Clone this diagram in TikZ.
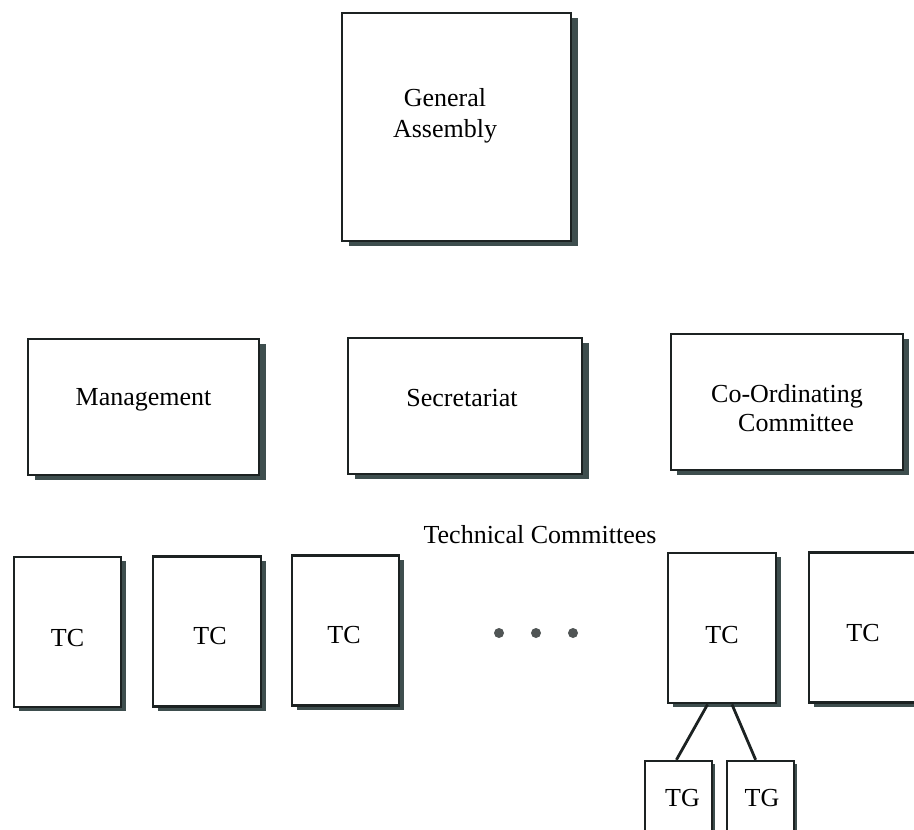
\documentclass[tikz,border=0pt]{standalone}
\usepackage{fontspec}
\setmainfont{Liberation Serif}
\usetikzlibrary{shadows,calc}
\definecolor{shadowc}{RGB}{62,78,78}
\definecolor{edgec}{RGB}{28,34,34}
\definecolor{dotc}{RGB}{80,85,85}
\tikzset{
  txt/.style={font=\fontsize{26pt}{31pt}\selectfont, text=black, align=center, inner sep=0pt},
  bigbox/.style={draw=edgec, line width=2.8pt, fill=white, inner sep=0pt,
    drop shadow={shadow xshift=6.5pt, shadow yshift=-5pt, opacity=1, fill=shadowc}},
  thinbox/.style={draw=edgec, line width=1.4pt, fill=white, inner sep=0pt,
    drop shadow={shadow xshift=6pt, shadow yshift=-5pt, opacity=1, fill=shadowc}},
  tcbox/.style={draw=edgec, line width=2.8pt, fill=white, inner sep=0pt,
    minimum width=107pt, minimum height=150pt,
    drop shadow={shadow xshift=5pt, shadow yshift=-4pt, opacity=1, fill=shadowc}},
  tgbox/.style={draw=edgec, line width=2.4pt, fill=white, inner sep=0pt,
    minimum width=67pt, minimum height=75pt,
    drop shadow={shadow xshift=3pt, shadow yshift=-3pt, opacity=1, fill=shadowc}},
  link/.style={draw=edgec, line width=2.8pt},
  dotmark/.style={circle, fill=dotc, inner sep=0pt, minimum size=10pt}
}
\begin{document}
\begin{tikzpicture}[x=1pt, y=-1pt]
\useasboundingbox (0,0) rectangle (914,830);

% top level
\node[bigbox, minimum width=229pt, minimum height=228pt,
  shadow xshift=8pt, shadow yshift=-7pt,
  label={[txt, xshift=-11.5pt, yshift=11pt]center:General\\Assembly}] (ga) at (456.5,127) {};

% second level
\node[bigbox, minimum width=231pt, minimum height=136pt,
  label={[txt, yshift=7pt]center:Management}] (mgmt) at (143.5,407) {};
\node[bigbox, minimum width=234pt, minimum height=136pt,
  label={[txt, xshift=-3pt, yshift=8pt]center:Secretariat}] (sec) at (465,406) {};
\node[thinbox, minimum width=232pt, minimum height=136pt,
  label={[txt, font=\fontsize{26pt}{29pt}\selectfont, yshift=-6pt]center:Co-Ordinating\\\hspace*{18pt}Committee}] (coord) at (787,402) {};

% technical committees
\node[txt] (tclabel) at (540,535) {Technical Committees};

\node[tcbox, label={[txt, yshift=-6pt]center:TC}] (tc1) at (67.5,632) {};
\node[tcbox, minimum width=108pt, label={[txt, xshift=3pt, yshift=-5pt]center:TC}] (tc2) at (207,631.5) {};
\node[tcbox, label={[txt, xshift=-1.5pt, yshift=-4.5pt]center:TC}] (tc3) at (345.5,630.5) {};

\node[dotmark] (d1) at (499,633) {};
\node[dotmark] (d2) at (536,633) {};
\node[dotmark] (d3) at (573,633) {};

\node[tcbox, minimum width=108pt, shadow xshift=3pt, shadow yshift=-3pt,
  label={[txt, yshift=-7pt]center:TC}] (tc5) at (722,628) {};
\node[tcbox, minimum width=108pt, label={[txt, yshift=-5.5pt]center:TC}] (tc6) at (863,627.5) {};

% task groups
\node[tgbox, label={[txt, xshift=4pt, yshift=0pt]center:TG}] (tg1) at (678.5,798.5) {};
\node[tgbox, label={[txt, xshift=1.5pt, yshift=0pt]center:TG}] (tg2) at (760.5,798.5) {};

\draw[link] ($(tc5.south west)!0.37!(tc5.south east)$) -- ($(tg1.north west)!0.47!(tg1.north east)$);
\draw[link] ($(tc5.south west)!0.59!(tc5.south east)$) -- ($(tg2.north west)!0.43!(tg2.north east)$);
\end{tikzpicture}
\end{document}
